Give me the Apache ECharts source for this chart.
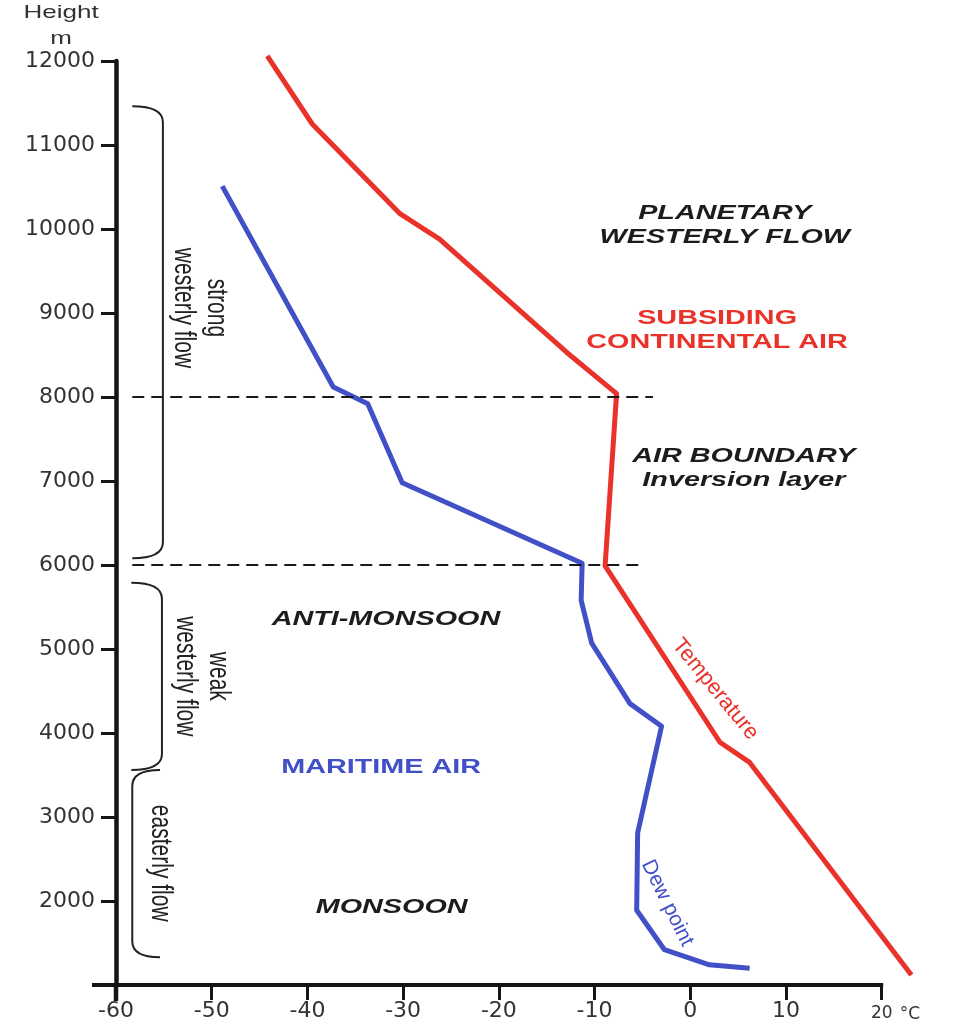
<!DOCTYPE html>
<html>
<head>
<meta charset="utf-8">
<script src="https://cdn.jsdelivr.net/npm/echarts@6/dist/echarts.min.js"></script>
<style>
  html, body { margin: 0; padding: 0; background: #ffffff; }
  #chart { width: 959px; height: 1033px; }
</style>
</head>
<body>
<div id="chart"></div>
<script>
// Vertical profile over the monsoon region: [°C, height m]
const temperature = [
  [-44.2, 12060], [-39.5, 11250], [-30.3, 10180], [-26.2, 9880],
  [-12.9, 8530], [-7.7, 8040], [-8.9, 5990], [3.1, 3890],
  [6.2, 3650], [23.1, 1120]
];
const dewPoint = [
  [-48.9, 10510], [-37.3, 8120], [-33.7, 7920], [-30.1, 6980],
  [-11.3, 6020], [-11.4, 5580], [-10.3, 5070], [-6.3, 4350],
  [-3.0, 4080], [-5.5, 2810], [-5.6, 1890], [-2.7, 1420],
  [2.0, 1240], [6.2, 1200]
];
// Tick values of the temperature scale (°C)
const tempTicks = [-60, -50, -40, -30, -20, -10, 0, 10, 20];
// Base and top of the inversion layer (m)
const layerBoundaries = [8000, 6000];
// Wind regimes, height ranges in m
const flowLayers = [
  { label: 'strong\nwesterly flow', top: 11460, bottom: 6080 },
  { label: 'weak\nwesterly flow', top: 5790, bottom: 3560 },
  { label: 'easterly flow', top: 3560, bottom: 1330 }
];
const airMassNames = [
  'PLANETARY\nWESTERLY FLOW',
  'SUBSIDING\nCONTINENTAL AIR',
  'AIR BOUNDARY\nInversion layer',
  'ANTI-MONSOON',
  'MARITIME AIR',
  'MONSOON'
];

// ---- presentation ----
const RED = '#e8322a';
const BLUE = '#4250c8';
const INK = '#1c1c1c';
const AXIS = '#151515';
const STRETCH = 1.37;   // wide lettering of the figure
const T_MIN = -60, T_END = 20, T_ROOM = 24;   // plot room to the right of the last tick

// where the dashed boundaries run (°C)
const boundarySpan = [[-58.3, -3.9], [-58.3, -5.1]];
// bracket geometry in axis units: tip, spine, label centre
const braceShape = [
  { tip: -58.3, spine: -55.1, labelT: -51.3, labelH: 9060 },
  { tip: -58.4, spine: -55.2, labelT: -51.1, labelH: 4675 },
  { tip: -55.4, spine: -58.3, labelT: -55.4, labelH: 2450 }
];
// label anchors in axis units and their look
const noteLayout = [
  { at: [3.6, 10040], color: INK, style: 'italic' },
  { at: [2.8, 8790], color: RED, style: 'normal' },
  { at: [5.6, 7150], color: INK, style: 'italic' },
  { at: [-31.8, 5360], color: INK, style: 'italic' },
  { at: [-32.3, 3590], color: BLUE, style: 'normal' },
  { at: [-31.2, 1930], color: INK, style: 'italic' }
];

const chart = echarts.init(document.getElementById('chart'), null, { renderer: 'canvas' });

const option = {
  backgroundColor: '#ffffff',
  animation: false,
  grid: { left: 116, right: 39, top: 61, bottom: 48, containLabel: false },
  xAxis: {
    type: 'value',
    min: T_MIN, max: T_ROOM, interval: 10,
    axisLine: { show: false },
    axisTick: {
      show: true, inside: false, length: 15,
      customValues: tempTicks,
      lineStyle: { color: AXIS, width: 3 }
    },
    axisLabel: {
      color: '#333', fontSize: 22, fontFamily: 'DejaVu Sans', margin: 15,
      customValues: tempTicks,
      formatter: v => v === T_END ? '{s|' + v + '}' : String(v),
      rich: { s: { fontSize: 17, fontFamily: 'DejaVu Sans', color: '#333', padding: [5, 0, 0, 0] } }
    },
    splitLine: { show: false }
  },
  yAxis: {
    type: 'value',
    min: 1000, max: 12000, interval: 1000,
    axisLine: { show: true, onZero: false, lineStyle: { color: AXIS, width: 4.5 } },
    axisTick: { show: true, inside: false, length: 15, lineStyle: { color: AXIS, width: 3 } },
    axisLabel: {
      color: '#333', fontSize: 22, fontFamily: 'DejaVu Sans', margin: 21,
      showMinLabel: false,
      formatter: v => String(v)
    },
    splitLine: { show: false }
  },
  series: [
    {
      name: 'Dew point',
      type: 'line',
      data: dewPoint,
      showSymbol: false,
      clip: false,
      z: 3,
      lineStyle: { color: BLUE, width: 5, join: 'round' }
    },
    {
      name: 'Temperature',
      type: 'line',
      data: temperature,
      showSymbol: false,
      clip: false,
      z: 3,
      lineStyle: { color: RED, width: 5, join: 'round' }
    },
    {
      // dashed base and top of the inversion layer
      name: 'boundaries',
      type: 'line',
      data: [],
      z: 6,
      markLine: {
        silent: true,
        symbol: ['none', 'none'],
        label: { show: false },
        lineStyle: { color: '#1a1a1a', width: 2, type: [12, 7] },
        data: layerBoundaries.map((h, i) => [
          { coord: [boundarySpan[i][0], h] },
          { coord: [boundarySpan[i][1], h] }
        ])
      }
    },
    {
      // brackets marking the wind regimes
      name: 'flow',
      type: 'custom',
      coordinateSystem: 'cartesian2d',
      clip: false,
      silent: true,
      z: 4,
      encode: { y: [0, 1] },
      data: flowLayers.map(l => [l.top, l.bottom]),
      renderItem: (params, api) => {
        const layer = flowLayers[params.dataIndex];
        const g = braceShape[params.dataIndex];
        const top = api.value(0), bottom = api.value(1);
        const pt = api.coord([g.tip, top]);
        const ps = api.coord([g.spine, top]);
        const pb = api.coord([g.tip, bottom]);
        const xt = pt[0], xs = ps[0], yt = pt[1], yb = pb[1];
        const r = 16;
        const d = 'M' + xt + ',' + yt +
          ' Q' + xs + ',' + yt + ' ' + xs + ',' + (yt + r) +
          ' L' + xs + ',' + (yb - r) +
          ' Q' + xs + ',' + yb + ' ' + xt + ',' + yb;
        const lp = api.coord([g.labelT, g.labelH]);
        return {
          type: 'group',
          children: [
            {
              type: 'path',
              shape: { pathData: d },
              style: { fill: null, stroke: '#222', lineWidth: 2 }
            },
            {
              type: 'text',
              x: lp[0], y: lp[1],
              rotation: -Math.PI / 2,
              scaleY: STRETCH,
              style: {
                text: layer.label,
                fill: '#222',
                fontSize: 21,
                fontFamily: 'Liberation Sans',
                align: 'center',
                verticalAlign: 'middle',
                lineHeight: 24
              }
            }
          ]
        };
      }
    },
    {
      // air mass names
      name: 'notes',
      type: 'custom',
      coordinateSystem: 'cartesian2d',
      clip: false,
      silent: true,
      z: 5,
      data: noteLayout.map(n => n.at),
      renderItem: (params, api) => {
        const n = noteLayout[params.dataIndex];
        const p = api.coord([api.value(0), api.value(1)]);
        return {
          type: 'text',
          x: p[0], y: p[1],
          scaleX: STRETCH,
          style: {
            text: airMassNames[params.dataIndex],
            fill: n.color,
            fontSize: 21,
            fontWeight: 'bold',
            fontStyle: n.style,
            fontFamily: 'Liberation Sans',
            align: 'center',
            verticalAlign: 'middle',
            lineHeight: 24
          }
        };
      }
    }
  ]
};

chart.setOption(option);

// temperature axis line (crossing past the height axis), unit, axis title, curve captions
const origin = chart.convertToPixel({ gridIndex: 0 }, [T_MIN, 1000]);
const axisEnd = chart.convertToPixel({ gridIndex: 0 }, [T_END, 1000]);
const tCap = chart.convertToPixel({ gridIndex: 0 }, [2.6, 4520]);
const dCap = chart.convertToPixel({ gridIndex: 0 }, [-2.4, 1975]);
chart.setOption({
  graphic: [
    {
      type: 'line', silent: true, z: 10,
      shape: { x1: origin[0] - 24, y1: origin[1], x2: axisEnd[0] + 1.5, y2: origin[1] },
      style: { stroke: AXIS, lineWidth: 4 }
    },
    {
      type: 'line', silent: true, z: 10,
      shape: { x1: origin[0], y1: origin[1], x2: origin[0], y2: origin[1] + 16 },
      style: { stroke: AXIS, lineWidth: 4.5 }
    },
    {
      type: 'text', silent: true,
      x: axisEnd[0] + 18, y: origin[1] + 30,
      style: {
        text: '°C', fill: '#333', fontSize: 17, fontFamily: 'DejaVu Sans',
        align: 'left', verticalAlign: 'middle'
      }
    },
    {
      type: 'text', silent: true,
      x: 61, y: 26, scaleX: STRETCH,
      style: {
        text: 'Height\nm', fill: '#333', fontSize: 19, fontFamily: 'Liberation Sans',
        align: 'center', verticalAlign: 'middle', lineHeight: 26
      }
    },
    {
      type: 'text', silent: true,
      x: tCap[0], y: tCap[1], rotation: -0.887,
      style: {
        text: 'Temperature', fill: RED, fontSize: 22, fontFamily: 'Liberation Sans',
        align: 'center', verticalAlign: 'middle'
      }
    },
    {
      type: 'text', silent: true,
      x: dCap[0], y: dCap[1], rotation: -1.112,
      style: {
        text: 'Dew point', fill: BLUE, fontSize: 21, fontFamily: 'Liberation Sans',
        align: 'center', verticalAlign: 'middle'
      }
    }
  ]
});
</script>
</body>
</html>
